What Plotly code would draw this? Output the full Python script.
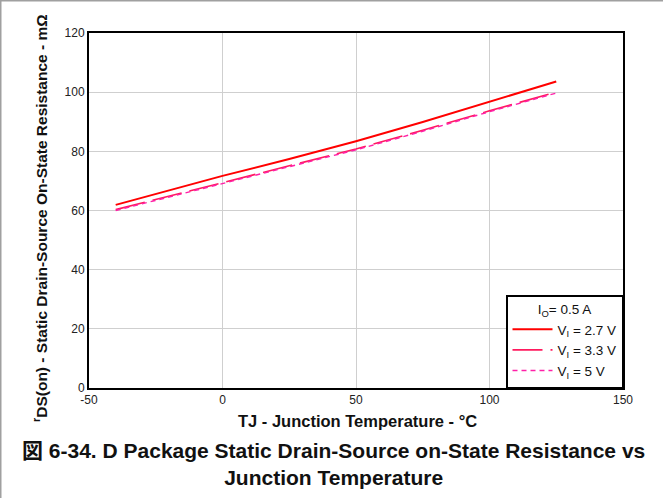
import plotly.graph_objects as go

temps = [-40, -20, 0, 25, 50, 75, 100, 125]
r_27 = [61.9, 66.7, 71.7, 77.4, 83.4, 89.9, 96.8, 103.6]
r_33 = [60.3, 64.8, 69.5, 75.0, 80.8, 87.1, 93.7, 100.0]
r_50 = [60.0, 64.5, 69.2, 74.7, 80.5, 86.8, 93.4, 99.7]
names = ["V<sub>I</sub> = 2.7 V", "V<sub>I</sub> = 3.3 V", "V<sub>I</sub> = 5 V"]
x_ticks = [-50, 0, 50, 100, 150]
y_ticks = [0, 20, 40, 60, 80, 100, 120]

FONT = "Arial, Liberation Sans, Noto Sans CJK JP, sans-serif"

fig = go.Figure()
fig.add_trace(go.Scatter(x=temps, y=r_27, mode="lines", name=names[0],
                         line=dict(color="#ff0000", width=2)))
fig.add_trace(go.Scatter(x=temps, y=r_33, mode="lines", name=names[1],
                         line=dict(color="#ff1a5e", width=1.6, dash="30px,8px")))
fig.add_trace(go.Scatter(x=temps, y=r_50, mode="lines", name=names[2],
                         line=dict(color="#ff20a8", width=1.4, dash="5px,4px")))

W, H = 663, 498
L, R, T, B = 89, 40, 33, 110
pw, ph = W - L - R, H - T - B

def px2paper_x(px):
    return (px - L) / pw

def px2paper_y(py):
    return (H - B - py) / ph

fig.update_layout(
    width=W, height=H,
    margin=dict(l=L, r=R, t=T, b=B),
    paper_bgcolor="white", plot_bgcolor="white",
    font=dict(family=FONT, color="#111111", size=12),
    showlegend=True,
    legend=dict(
        x=1, y=0, xanchor="right", yanchor="bottom",
        bgcolor="white", bordercolor="black", borderwidth=1.5,
        font=dict(size=13.5, color="#111111", family=FONT),
        title=dict(text="I<sub>O</sub>= 0.5 A", side="top center",
                   font=dict(size=13.5, color="#111111", family=FONT)),
        tracegroupgap=0, itemwidth=40,
        entrywidth=92, entrywidthmode="pixels",
    ),
)
fig.update_xaxes(range=[-50, 150], tickvals=x_ticks, ticktext=[str(v) for v in x_ticks],
                 showgrid=True, gridcolor="#cfcfcf", gridwidth=1,
                 showline=True, linecolor="black", linewidth=2, mirror=True,
                 zeroline=False, ticks="", tickfont=dict(size=12, color="#222222"))
fig.update_yaxes(range=[0, 120], tickvals=y_ticks, ticktext=[str(v) for v in y_ticks],
                 showgrid=True, gridcolor="#cfcfcf", gridwidth=1,
                 showline=True, linecolor="black", linewidth=2, mirror=True,
                 zeroline=False, ticks="", tickfont=dict(size=12, color="#222222"))

# Axis titles
fig.add_annotation(
    text="<b><sup>r</sup>DS(on) - Static Drain-Source On-State Resistance - mΩ</b>",
    xref="paper", yref="paper", x=px2paper_x(40), y=px2paper_y(218),
    xanchor="center", yanchor="middle", textangle=-90, showarrow=False,
    font=dict(size=15.5, color="#111111", family=FONT))
fig.add_annotation(
    text="<b>TJ - Junction Temperature - °C</b>",
    xref="paper", yref="paper", x=px2paper_x(357), y=px2paper_y(421),
    xanchor="center", yanchor="middle", showarrow=False,
    font=dict(size=16.5, color="#111111", family=FONT))
# Caption
fig.add_annotation(
    text="<b>図 6-34. D Package Static Drain-Source on-State Resistance vs<br>Junction Temperature</b>",
    xref="paper", yref="paper", x=px2paper_x(333), y=px2paper_y(464),
    xanchor="center", yanchor="middle", showarrow=False, align="center",
    font=dict(size=21, color="#111111", family=FONT))

# light gray frame on the top and left edges
fig.add_shape(type="line", xref="paper", yref="paper",
              x0=px2paper_x(0), x1=px2paper_x(W), y0=px2paper_y(0.75), y1=px2paper_y(0.75),
              line=dict(color="#a0a0a0", width=1.5))
fig.add_shape(type="line", xref="paper", yref="paper",
              x0=px2paper_x(0.75), x1=px2paper_x(0.75), y0=px2paper_y(0), y1=px2paper_y(H),
              line=dict(color="#a0a0a0", width=1.5))

fig.write_html("out.html", config={"displayModeBar": False},
               post_script="document.body.style.margin='0';")
